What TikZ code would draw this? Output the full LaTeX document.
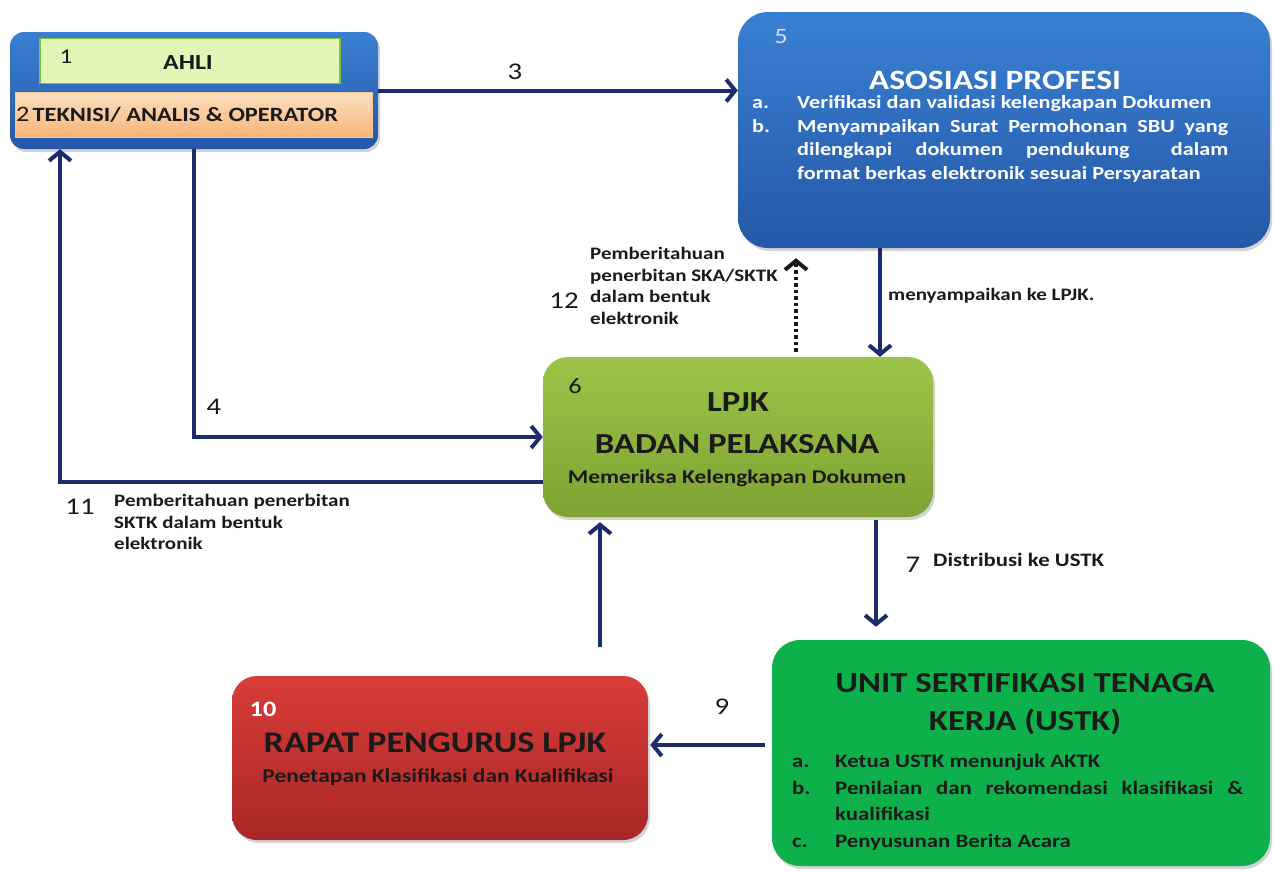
\documentclass[tikz,border=0pt]{standalone}
\usepackage{fontspec}
\setmainfont{Carlito}[FakeStretch=1.2]
\usetikzlibrary{arrows.meta,shadows}
\definecolor{navy}{HTML}{1C2B6C}
\definecolor{blueA}{HTML}{3A80D2}
\definecolor{blueB}{HTML}{2458A8}
\definecolor{ahliF}{HTML}{E2F6B8}
\definecolor{ahliD}{HTML}{7CC242}
\definecolor{peachA}{HTML}{FCE0C0}
\definecolor{peachB}{HTML}{F8B47A}
\definecolor{limeA}{HTML}{9CC548}
\definecolor{limeB}{HTML}{7DA331}
\definecolor{ustkG}{HTML}{0DB04B}
\definecolor{redA}{HTML}{D83C38}
\definecolor{redB}{HTML}{A92727}
\definecolor{darktxt}{HTML}{1A1A1A}
\newcommand{\fs}[2]{\fontsize{#1}{#2}\selectfont}
\hyphenpenalty=10000
\begin{document}
\begin{tikzpicture}[x=1pt,y=-1pt,
  box/.style={rounded corners=#1, draw=none, inner sep=0pt, drop shadow={shadow xshift=2pt, shadow yshift=-3pt, opacity=0.35}},
  conn/.style={draw=navy, line width=4pt, -{Straight Barb[length=9pt,width=22pt,line width=4pt]}},
  lbl/.style={inner sep=0pt, text=darktxt, font=\fs{17.5}{21.7}\bfseries, align=left},
  num/.style={inner sep=0pt, text=darktxt, font=\fs{24}{26}}]
\useasboundingbox (0,0) rectangle (1273,871);

% box 1/2
\node[box=14pt, top color=blueA, bottom color=blueB, minimum width=368pt, minimum height=117pt] (b1) at (194,90.5) {};
\node[draw=ahliD, line width=1.5pt, fill=ahliF, minimum width=300pt, minimum height=45pt, inner sep=0pt] (ahli) at (190,61) {};
\node[draw=peachB!80!white, line width=1pt, top color=peachA, bottom color=peachB, minimum width=357pt, minimum height=45pt, inner sep=0pt] (tek) at (193.5,114.5) {};
\node[num, font=\fs{21}{22}] (n1) at (66,57) {1};
\node[inner sep=0pt, text=darktxt, font=\fs{21.5}{24}\bfseries] (ahlit) at (188,63) {AHLI};
\node[inner sep=0pt, anchor=west, text=darktxt] (tekt) at (16,115) {{\fs{22}{24}2}\kern3pt{\fs{20.3}{22}\bfseries TEKNISI/ ANALIS \& OPERATOR}};

% box 5
\node[box=30pt, top color=blueA, bottom color=blueB, minimum width=532pt, minimum height=236pt] (b5) at (1004,130) {};
\node[inner sep=0pt, text=blue!15!white, font=\fs{22}{24}] (n5) at (781,37) {5};
\node[inner sep=0pt, text=white, font=\fs{28}{30}\bfseries] (b5t) at (995,80) {ASOSIASI PROFESI};
\node[inner sep=0pt, anchor=north west, text=white, font=\fs{18.5}{23.5}\bfseries] (b5l) at (752,92)
 {\begin{tabular}{@{}p{45pt}@{}p{431pt}@{}}
  a. & Verifikasi dan validasi kelengkapan Dokumen\\
  b. & Menyampaikan Surat Permohonan SBU yang\linebreak dilengkapi dokumen pendukung\hspace*{18pt} dalam\linebreak format berkas elektronik sesuai Persyaratan
  \end{tabular}};

% box 6
\node[box=25pt, top color=limeA, bottom color=limeB, minimum width=390pt, minimum height=160pt] (b6) at (738,437) {};
\node[inner sep=0pt, text=darktxt, font=\fs{22}{24}] (n6) at (575,386) {6};
\node[inner sep=0pt, text=darktxt, font=\fs{29}{30}\bfseries] (b6a) at (738,402) {LPJK};
\node[inner sep=0pt, text=darktxt, font=\fs{29}{30}\bfseries] (b6b) at (737,444) {BADAN PELAKSANA};
\node[inner sep=0pt, text=darktxt, font=\fs{19.5}{22}\bfseries] (b6c) at (737,478) {Memeriksa Kelengkapan Dokumen};

% box USTK
\node[box=28pt, fill=ustkG, minimum width=498pt, minimum height=226pt] (b7) at (1021,753) {};
\node[inner sep=0pt, text=darktxt, font=\fs{29}{30}\bfseries] (b7a) at (1025,683) {UNIT SERTIFIKASI TENAGA};
\node[inner sep=0pt, text=darktxt, font=\fs{29}{30}\bfseries] (b7b) at (1025,722) {KERJA (USTK)};
\node[inner sep=0pt, anchor=north west, text=darktxt, font=\fs{19}{26.5}\bfseries] (b7l) at (792,749)
 {\begin{tabular}{@{}p{43pt}@{}p{408pt}@{}}
  a. & Ketua USTK menunjuk AKTK\\
  b. & Penilaian dan rekomendasi klasifikasi \&\linebreak kualifikasi\\
  c. & Penyusunan Berita Acara
  \end{tabular}};

% box 10
\node[box=25pt, top color=redA, bottom color=redB, minimum width=416pt, minimum height=164pt] (b10) at (440,758) {};
\node[inner sep=0pt, text=white, font=\fs{22}{24}\bfseries] (n10) at (263,709) {10};
\node[inner sep=0pt, text=darktxt, font=\fs{30}{32}\bfseries] (b10a) at (435,743) {RAPAT PENGURUS LPJK};
\node[inner sep=0pt, text=darktxt, font=\fs{19.5}{22}\bfseries] (b10b) at (438,777) {Penetapan Klasifikasi dan Kualifikasi};

% connectors
\draw[conn] (b1.east) -- (b5.west |- b1.east);
\node[num] (l3) at (515,72) {3};

\draw[conn] (b1.south) |- (b6.west);
\node[num] (l4) at (214,407) {4};

\draw[conn] (b6.west |- 0,482) -| (b1.south -| 60,0);
\node[num] (l11) at (80,507) {11};
\node[lbl, anchor=north west] (t11) at (114,494) {Pemberitahuan penerbitan\\SKTK dalam bentuk\\elektronik};

\draw[conn] (b5.south -| 880,0) -- (b6.north -| 880,0);
\node[lbl, anchor=west] (tm) at (888,296) {menyampaikan ke LPJK.};

\draw[conn, draw=black!90, dash pattern=on 3.5pt off 3pt, line cap=butt, shorten <=5pt, shorten >=10pt] (b6.north -| 796,0) -- (b5.south -| 796,0);
\node[num] (l12) at (564,301) {12};
\node[lbl, anchor=north west] (t12) at (590,247) {Pemberitahuan\\penerbitan SKA/SKTK\\dalam bentuk\\elektronik};

\draw[conn, shorten <=3pt, shorten >=13pt] (b6.south -| 876,0) -- (b7.north -| 876,0);
\node[num] (l7) at (913,565) {7};
\node[lbl, anchor=west, font=\fs{19}{22}\bfseries] (t7) at (933,560) {Distribusi ke USTK};

\draw[conn, shorten <=7pt, shorten >=2pt] (b7.west |- 0,745) -- (b10.east |- 0,745);
\node[num] (l9) at (722,707) {9};

\draw[conn, shorten <=29pt, shorten >=5pt] (b10.north -| 600,0) -- (b6.south -| 600,0);
\end{tikzpicture}
\end{document}
